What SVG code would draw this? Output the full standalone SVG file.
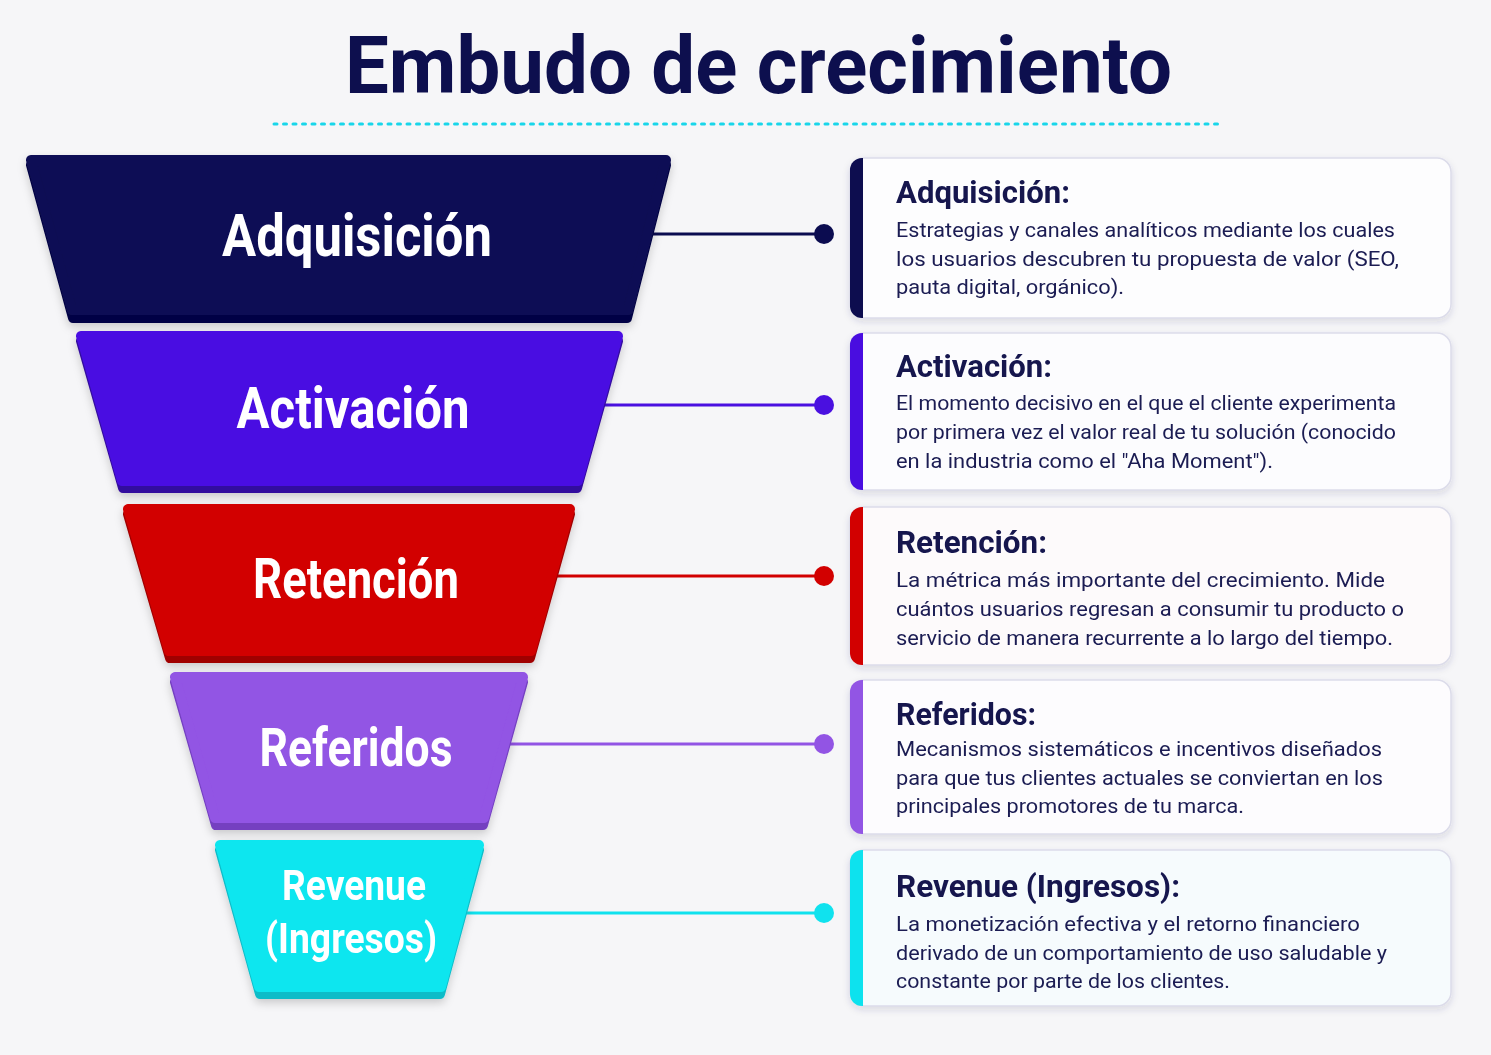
<svg xmlns="http://www.w3.org/2000/svg" width="1491" height="1055" viewBox="0 0 1491 1055">
<defs>
<filter id="sh" x="-10%" y="-10%" width="120%" height="130%">
<feDropShadow dx="0" dy="4" stdDeviation="4" flood-color="#000" flood-opacity="0.18"/>
</filter>
<filter id="csh" x="-5%" y="-10%" width="110%" height="130%">
<feDropShadow dx="0" dy="3" stdDeviation="3.5" flood-color="#30305a" flood-opacity="0.14"/>
</filter>
</defs>
<style>
.title{font-family:Roboto,"Liberation Sans",sans-serif;font-weight:700;fill:#0d0f4e}
.flab{font-family:Roboto,"Liberation Sans",sans-serif;font-weight:700;fill:#ffffff;text-anchor:middle}
.ct{font-family:Roboto,"Liberation Sans",sans-serif;font-weight:700;fill:#12144e;font-size:32px}
.cb{font-family:Roboto,"Liberation Sans",sans-serif;font-weight:400;fill:#1a1c52;font-size:21px}
.card{stroke:#dcdcea;stroke-width:1.5}
.conn{stroke-width:3;fill:none}
.tz{stroke-linejoin:round;stroke-width:10}
</style>
<rect width="1491" height="1055" fill="#f6f6f8"/>

<g id="title">
<text class="title" x="345" y="93" font-size="80" textLength="827" lengthAdjust="spacingAndGlyphs">Embudo de crecimiento</text>
<line x1="274" y1="124" x2="1222" y2="124" stroke="#19d6ea" stroke-width="3" stroke-dasharray="3 6.5" stroke-linecap="round"/>
</g>

<g id="connectors">
<line class="conn" x1="620" y1="234" x2="824" y2="234" stroke="#0b0c50"/>
<circle cx="824" cy="234" r="10" fill="#0b0c50"/>
<line class="conn" x1="580" y1="405" x2="824" y2="405" stroke="#4a10e0"/>
<circle cx="824" cy="405" r="10" fill="#4a10e0"/>
<line class="conn" x1="530" y1="576" x2="824" y2="576" stroke="#d20000"/>
<circle cx="824" cy="576" r="10" fill="#d20000"/>
<line class="conn" x1="480" y1="744" x2="824" y2="744" stroke="#9254e4"/>
<circle cx="824" cy="744" r="10" fill="#9254e4"/>
<line class="conn" x1="440" y1="913" x2="824" y2="913" stroke="#10e2ee"/>
<circle cx="824" cy="913" r="10" fill="#10e2ee"/>
</g>

<g id="funnel-adquisicion" filter="url(#sh)">
<polygon class="tz" points="31,165 666,165 627,318 73,318" fill="#060644" stroke="#060644"/>
<polygon class="tz" points="31,160 666,160 628,310 72,310" fill="#0b0c54" stroke="#0b0c54"/>
<text class="flab" x="357" y="256" font-size="60" textLength="270" lengthAdjust="spacingAndGlyphs">Adquisición</text>
</g>

<g id="funnel-activacion" filter="url(#sh)">
<polygon class="tz" points="81,341 618,341 577,488 123,488" fill="#33089e" stroke="#33089e"/>
<polygon class="tz" points="81,336 618,336 578,481 122,481" fill="#4a0ae2" stroke="#4a0ae2"/>
<text class="flab" x="353" y="428" font-size="58" textLength="233" lengthAdjust="spacingAndGlyphs">Activación</text>
</g>

<g id="funnel-retencion" filter="url(#sh)">
<polygon class="tz" points="128,514 570,514 530,658 170,658" fill="#a00000" stroke="#a00000"/>
<polygon class="tz" points="128,509 570,509 531,651 169,651" fill="#d20000" stroke="#d20000"/>
<text class="flab" x="356" y="598" font-size="56" textLength="206" lengthAdjust="spacingAndGlyphs">Retención</text>
</g>

<g id="funnel-referidos" filter="url(#sh)">
<polygon class="tz" points="175,682 523,682 483,825 216,825" fill="#7440c0" stroke="#7440c0"/>
<polygon class="tz" points="175,677 523,677 484,818 215,818" fill="#9254e4" stroke="#9254e4"/>
<text class="flab" x="356" y="766" font-size="54" textLength="193" lengthAdjust="spacingAndGlyphs">Referidos</text>
</g>

<g id="funnel-revenue" filter="url(#sh)">
<polygon class="tz" points="220,850 479,850 440,994 260,994" fill="#0cbcc8" stroke="#0cbcc8"/>
<polygon class="tz" points="220,845 479,845 441,987 259,987" fill="#0fe6ef" stroke="#0fe6ef"/>
<text class="flab" x="354" y="900" font-size="42" textLength="144" lengthAdjust="spacingAndGlyphs">Revenue</text>
<text class="flab" x="351" y="953" font-size="42" textLength="172" lengthAdjust="spacingAndGlyphs">(Ingresos)</text>
</g>

<g id="card-adquisicion" filter="url(#csh)">
<rect class="card" x="850" y="158" width="601" height="160" rx="14" fill="#fdfdfe"/>
<path d="M863,158 V318 H862 A12,12 0 0 1 850,306 V170 A12,12 0 0 1 862,158 Z" fill="#0b0c50"/>
<text class="ct" x="896" y="203" textLength="174" lengthAdjust="spacingAndGlyphs">Adquisición:</text>
<text class="cb" x="896" y="237" textLength="499" lengthAdjust="spacingAndGlyphs">Estrategias y canales analíticos mediante los cuales</text>
<text class="cb" x="896" y="266" textLength="503" lengthAdjust="spacingAndGlyphs">los usuarios descubren tu propuesta de valor (SEO,</text>
<text class="cb" x="896" y="294" textLength="228" lengthAdjust="spacingAndGlyphs">pauta digital, orgánico).</text>
</g>

<g id="card-activacion" filter="url(#csh)">
<rect class="card" x="850" y="333" width="601" height="157" rx="14" fill="#fcfcfe"/>
<path d="M863,333 V490 H862 A12,12 0 0 1 850,478 V345 A12,12 0 0 1 862,333 Z" fill="#4a10e0"/>
<text class="ct" x="896" y="377" textLength="156" lengthAdjust="spacingAndGlyphs">Activación:</text>
<text class="cb" x="896" y="410" textLength="500" lengthAdjust="spacingAndGlyphs">El momento decisivo en el que el cliente experimenta</text>
<text class="cb" x="896" y="439" textLength="500" lengthAdjust="spacingAndGlyphs">por primera vez el valor real de tu solución (conocido</text>
<text class="cb" x="896" y="468" textLength="377" lengthAdjust="spacingAndGlyphs">en la industria como el "Aha Moment").</text>
</g>

<g id="card-retencion" filter="url(#csh)">
<rect class="card" x="850" y="507" width="601" height="158" rx="14" fill="#fdfafb" stroke="#f0dada"/>
<path d="M863,507 V665 H862 A12,12 0 0 1 850,653 V519 A12,12 0 0 1 862,507 Z" fill="#d20000"/>
<text class="ct" x="896" y="553" textLength="151" lengthAdjust="spacingAndGlyphs">Retención:</text>
<text class="cb" x="896" y="587" textLength="489" lengthAdjust="spacingAndGlyphs">La métrica más importante del crecimiento. Mide</text>
<text class="cb" x="896" y="616" textLength="508" lengthAdjust="spacingAndGlyphs">cuántos usuarios regresan a consumir tu producto o</text>
<text class="cb" x="896" y="645" textLength="497" lengthAdjust="spacingAndGlyphs">servicio de manera recurrente a lo largo del tiempo.</text>
</g>

<g id="card-referidos" filter="url(#csh)">
<rect class="card" x="850" y="680" width="601" height="154" rx="14" fill="#fdfcfe"/>
<path d="M863,680 V834 H862 A12,12 0 0 1 850,822 V692 A12,12 0 0 1 862,680 Z" fill="#9254e4"/>
<text class="ct" x="896" y="725" textLength="140" lengthAdjust="spacingAndGlyphs">Referidos:</text>
<text class="cb" x="896" y="756" textLength="486" lengthAdjust="spacingAndGlyphs">Mecanismos sistemáticos e incentivos diseñados</text>
<text class="cb" x="896" y="785" textLength="487" lengthAdjust="spacingAndGlyphs">para que tus clientes actuales se conviertan en los</text>
<text class="cb" x="896" y="813" textLength="348" lengthAdjust="spacingAndGlyphs">principales promotores de tu marca.</text>
</g>

<g id="card-revenue" filter="url(#csh)">
<rect class="card" x="850" y="850" width="601" height="156" rx="14" fill="#f6fbfd" stroke="#d4eef2"/>
<path d="M863,850 V1006 H862 A12,12 0 0 1 850,994 V862 A12,12 0 0 1 862,850 Z" fill="#10e2ee"/>
<text class="ct" x="896" y="897" textLength="284" lengthAdjust="spacingAndGlyphs">Revenue (Ingresos):</text>
<text class="cb" x="896" y="931" textLength="464" lengthAdjust="spacingAndGlyphs">La monetización efectiva y el retorno financiero</text>
<text class="cb" x="896" y="960" textLength="491" lengthAdjust="spacingAndGlyphs">derivado de un comportamiento de uso saludable y</text>
<text class="cb" x="896" y="988" textLength="334" lengthAdjust="spacingAndGlyphs">constante por parte de los clientes.</text>
</g>
</svg>
